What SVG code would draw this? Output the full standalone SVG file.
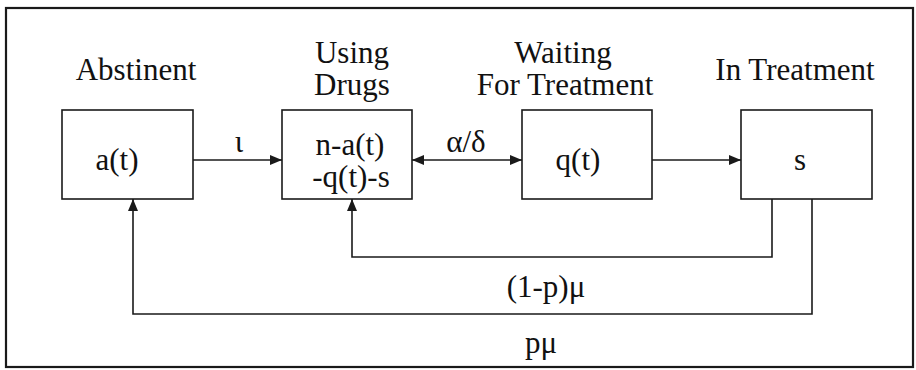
<svg xmlns="http://www.w3.org/2000/svg" width="916" height="370" viewBox="0 0 916 370">
  <style>
    .box { fill: #fff; stroke: #1a1a1a; stroke-width: 1.6; }
    .wire { fill: none; stroke: #1a1a1a; stroke-width: 1.6; }
    .frame { fill: none; stroke: #1a1a1a; stroke-width: 2.2; }
  </style>
  <defs>
    <marker id="arrow" viewBox="0 0 12 10" refX="12" refY="5" markerWidth="12" markerHeight="10" markerUnits="userSpaceOnUse" orient="auto-start-reverse">
      <path d="M0,0 L12,5 L0,10 Z" fill="#1a1a1a"/>
    </marker>
  </defs>

  <rect width="916" height="370" fill="#fff"/>
  <rect class="frame" x="6" y="8" width="907" height="359"/>

  <g font-family="Liberation Serif, DejaVu Serif, serif" font-size="31" fill="#111" text-anchor="middle">
    <!-- states -->
    <g id="abstinent">
      <text x="136" y="80">Abstinent</text>
      <rect class="box" x="62" y="110" width="131" height="89"/>
      <text x="117" y="170">a(t)</text>
    </g>
    <g id="using-drugs">
      <text x="352" y="63">Using</text>
      <text x="352" y="95">Drugs</text>
      <rect class="box" x="282" y="110" width="130" height="89"/>
      <text x="350" y="155">n-a(t)</text>
      <text x="351" y="187">-q(t)-s</text>
    </g>
    <g id="waiting">
      <text x="563" y="63">Waiting</text>
      <text x="565" y="95">For Treatment</text>
      <rect class="box" x="522" y="110" width="130" height="89"/>
      <text x="578" y="170">q(t)</text>
    </g>
    <g id="in-treatment">
      <text x="795" y="80">In Treatment</text>
      <rect class="box" x="741" y="110" width="131" height="89"/>
      <text x="800" y="170">s</text>
    </g>

    <!-- transitions -->
    <g id="connectors">
      <line class="wire" x1="193" y1="160" x2="282" y2="160" marker-end="url(#arrow)"/>
      <line class="wire" x1="412" y1="160" x2="522" y2="160" marker-start="url(#arrow)" marker-end="url(#arrow)"/>
      <line class="wire" x1="652" y1="160" x2="741" y2="160" marker-end="url(#arrow)"/>
      <polyline class="wire" points="772,199 772,257 352,257 352,199" marker-end="url(#arrow)"/>
      <polyline class="wire" points="812,199 812,314 133,314 133,199" marker-end="url(#arrow)"/>
      <text x="239" y="152">ι</text>
      <text x="466" y="152">α/δ</text>
      <text x="546" y="297">(1-p)μ</text>
      <text x="541" y="353">pμ</text>
    </g>
  </g>
</svg>
